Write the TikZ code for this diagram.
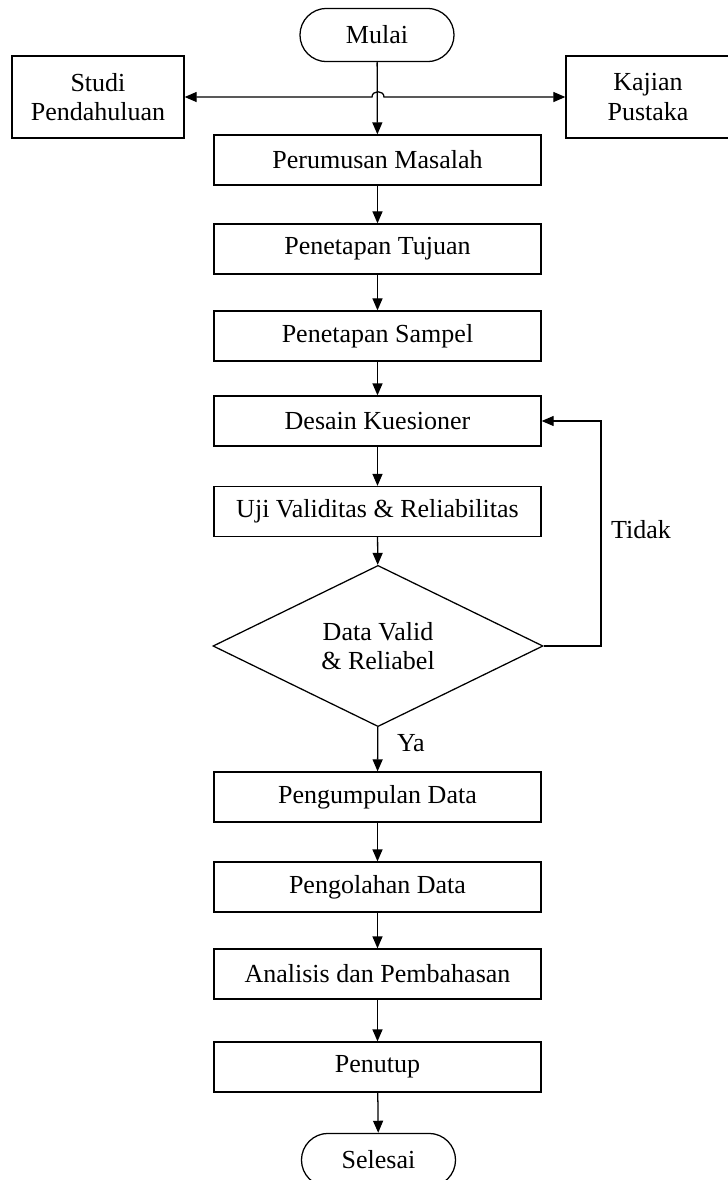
\documentclass[tikz,border=0pt]{standalone}
\usepackage{fontspec}
\setmainfont{Liberation Serif}
\usetikzlibrary{shapes.geometric,shapes.misc,arrows.meta}

\begin{document}
\begin{tikzpicture}[x=0.025cm,y=-0.025cm,
    >={Triangle[length=0.3cm,width=0.25cm]},
    every node/.style={font=\fontsize{18.5}{21}\selectfont},
    proses/.style={draw,line width=0.9pt,minimum width=8.175cm,minimum height=1.25cm,inner sep=0pt},
    terminal/.style={draw,line width=0.9pt,rounded rectangle,minimum width=3.85cm,minimum height=1.33cm,inner sep=0pt},
    sisi/.style={draw,line width=0.9pt,minimum height=2.05cm,align=center,inner sep=0pt},
    panah/.style={->,line width=0.9pt}]
      \useasboundingbox (0,0) rectangle (728,1180) ;
      \node[terminal] (mulai) at (377,35) {Mulai} ;
      \node[sisi,minimum width=4.3cm] (studi) at (98,97) {Studi\\Pendahuluan} ;
      \node[sisi,minimum width=4.1cm] (kajian) at (648,97) {Kajian\\Pustaka} ;
      \node[proses] (rumus) at (377.5,160) {Perumusan Masalah} ;
      \node[proses] (tujuan) at (377.5,249) {Penetapan Tujuan} ;
      \node[proses] (sampel) at (377.5,336) {Penetapan Sampel} ;
      \node[proses] (desain) at (377.5,421) {Desain Kuesioner} ;
      \node[proses] (uji) at (377.5,511.5) {Uji Validitas \& Reliabilitas} ;
      \node[draw,line width=0.9pt,diamond,minimum width=8.25cm,minimum height=3.85cm,inner sep=0pt,align=center] (cek) at (378,646) {Data Valid\\\& Reliabel} ;
      \node[proses] (kumpul) at (377.5,797) {Pengumpulan Data} ;
      \node[proses] (olah) at (377.5,887) {Pengolahan Data} ;
      \node[proses] (analisis) at (377.5,974) {Analisis dan Pembahasan} ;
      \node[proses] (tutup) at (377.5,1067) {Penutup} ;
      \node[terminal] (selesai) at (378.5,1160) {Selesai} ;
      \coordinate (hop1) at (372,97) ;
      \coordinate (hop2) at (384,97) ;
      \coordinate (balik) at (601,421) ;
      \draw[panah] (mulai) -- (rumus) ;
      \draw[<->,line width=0.9pt] (studi.east) -- (hop1) .. controls (372,90) and (384,90) .. (hop2) -- (kajian.west) ;
      \draw[panah] (rumus) -- (tujuan) ;
      \draw[panah] (tujuan) -- (sampel) ;
      \draw[panah] (sampel) -- (desain) ;
      \draw[panah] (desain) -- (uji) ;
      \draw[panah] (uji) -- (cek) ;
      \draw[panah] (cek.east) -| (balik) -- (desain.east) ;
      \draw[panah] (cek) -- (kumpul) node[pos=0.35,right=0.35cm] (ya) {Ya} ;
      \draw[panah] (kumpul) -- (olah) ;
      \draw[panah] (olah) -- (analisis) ;
      \draw[panah] (analisis) -- (tutup) ;
      \draw[panah] (tutup) -- (selesai) ;
      \node (tidak) at (641,530) {Tidak} ;
\end{tikzpicture}
\end{document}
